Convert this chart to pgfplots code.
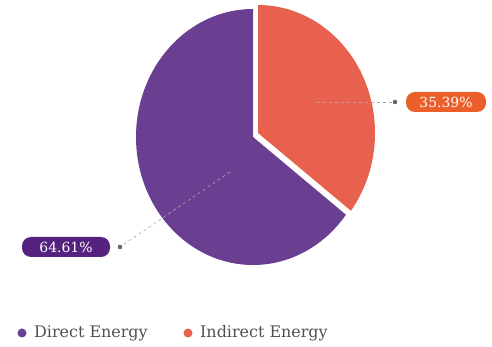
\documentclass[border=0pt]{standalone}
\usepackage{pgfplots}
\pgfplotsset{compat=1.18}
\usepackage{pgfplotstable}
\usepackage{fontspec}
\setmainfont{DejaVu Serif}
\definecolor{cDirect}{HTML}{6A3F91}
\definecolor{cIndirect}{HTML}{E8604E}
\definecolor{lblDirect}{HTML}{55237F}
\definecolor{lblIndirect}{HTML}{EA5F2A}
\definecolor{legtext}{HTML}{505050}
\definecolor{dotc}{HTML}{5E6B60}
\pgfplotstableread{
label value
Direct 64.61
Indirect 35.39
}\piedata
\begin{document}
\begin{tikzpicture}
\pgfplotstablegetelem{0}{value}\of\piedata \let\va\pgfplotsretval
\pgfplotstablegetelem{1}{value}\of\piedata \let\vb\pgfplotsretval
\pgfmathsetmacro{\endA}{90+3.6*\va}
\pgfmathsetmacro{\startB}{90-3.6*\vb}
\begin{axis}[width=492bp,height=347bp,scale only axis,
  xmin=0,xmax=492,ymin=0,ymax=347,hide axis,clip=false]
\path (axis cs:0,0) rectangle (axis cs:492,347);
% slices
\fill[cDirect] (axis cs:253,210) -- ++(90:117bp and 128bp)
   arc[start angle=90,end angle=\endA,x radius=117bp,y radius=128bp] -- cycle;
\fill[cIndirect] (axis cs:258,214) -- ++(\startB:117bp and 128bp)
   arc[start angle=\startB,end angle=90,x radius=117bp,y radius=128bp] -- cycle;
% leader lines
\draw[gray!70, dashed, line width=0.6bp] (axis cs:230,175) -- (axis cs:120,100);
\fill[dotc] (axis cs:120,100) circle (2.3bp);
\draw[gray!70, dashed, line width=0.6bp] (axis cs:317,245) -- (axis cs:395,245);
\fill[dotc] (axis cs:395,245) circle (2.3bp);
% labels
\node[fill=lblDirect, rounded corners=9bp, text=white, minimum height=20bp,
  minimum width=88bp, inner sep=0pt] at (axis cs:66,100)
  {\fontsize{14}{14}\selectfont 64.61\%};
\node[fill=lblIndirect, rounded corners=9bp, text=white, minimum height=20bp,
  minimum width=80bp, inner sep=0pt] at (axis cs:446,245)
  {\fontsize{14}{14}\selectfont 35.39\%};
% legend
\fill[cDirect] (axis cs:22,14) circle (4.5bp);
\node[anchor=west, text=legtext, inner sep=0pt] at (axis cs:34,14)
  {\fontsize{16}{16}\selectfont Direct Energy};
\fill[cIndirect] (axis cs:188,14) circle (4.5bp);
\node[anchor=west, text=legtext, inner sep=0pt] at (axis cs:200,14)
  {\fontsize{16}{16}\selectfont Indirect Energy};
\end{axis}
\end{tikzpicture}
\end{document}
